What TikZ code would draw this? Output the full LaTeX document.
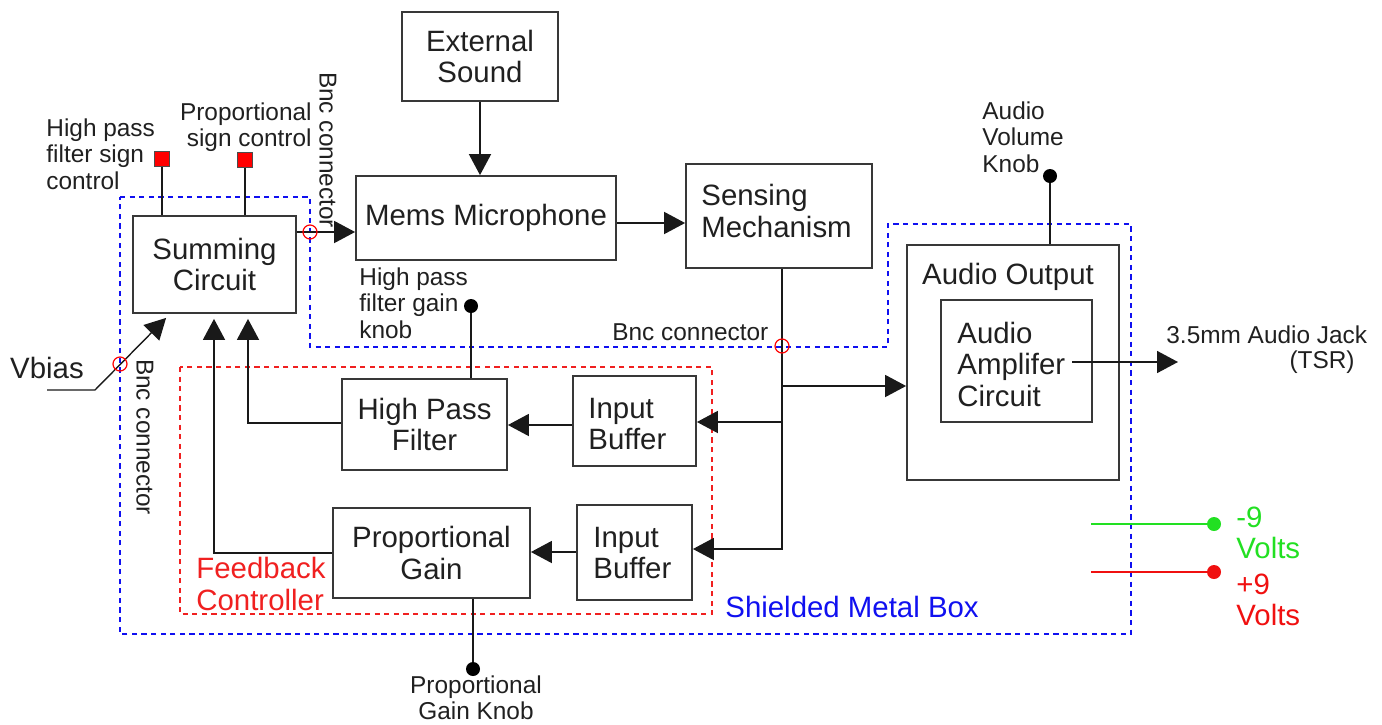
\documentclass[tikz,border=0pt]{standalone}
\usepackage{fontspec}
\setmainfont{Liberation Sans}
\usetikzlibrary{arrows.meta,fit,calc}
\definecolor{boxc}{HTML}{383838}
\definecolor{txt}{HTML}{202020}
\definecolor{bluedash}{HTML}{1010F0}
\definecolor{reddash}{HTML}{F02020}
\definecolor{vgreen}{HTML}{22E022}
\definecolor{vred}{HTML}{F01010}
\begin{document}
\begin{tikzpicture}[x=0.5pt,y=-0.5pt,
  every node/.style={text=txt},
  box/.style={draw=boxc,line width=0.9pt,inner sep=0pt},
  big/.style={font=\fontsize{14.7}{15.75}\selectfont,inner sep=0pt},
  small/.style={font=\fontsize{12.2}{13.25}\selectfont,inner sep=0pt},
  wire/.style={draw=black!90,line width=0.85pt},
  arr/.style={wire,-{Triangle[length=10.5pt,width=11pt]}},
  knob/.style={circle,fill=black,inner sep=0pt,minimum size=7pt},
  sq/.style={rectangle,fill=red,draw=black!70,line width=0.4pt,inner sep=0pt,minimum size=7.5pt},
  bnc/.style={circle,draw=red,line width=0.6pt,inner sep=0pt,minimum size=7pt},
  shield/.style={draw=bluedash,line width=1.1pt,dash pattern=on 2.6pt off 2.2pt},
  fbbox/.style={draw=reddash,line width=1.1pt,dash pattern=on 2.6pt off 2.2pt}]
\useasboundingbox (0,0) rectangle (1382,724);

% dashed enclosures
\draw[shield] (120,197) -- (310,197) -- (310,347) -- (888,347) -- (888,224) -- (1131,224) -- (1131,634) -- (120,634) -- cycle;
\draw[fbbox] (180,367) rectangle (712,614);

% blocks
\node[box,fit={(402,12)(558,101)}] (ext) {};
\node[big,align=center] (extT) at (ext.center) {External\\Sound};
\node[box,fit={(356,176)(616,260)}] (mems) {};
\node[big] (memsT) at (mems.center) {Mems Microphone};
\node[box,fit={(686,164)(872,268)}] (sens) {};
\node[big,align=left,anchor=west] (sensT) at (701,211) {Sensing\\Mechanism};
\node[box,fit={(133,216)(296,313)}] (sum) {};
\node[big,align=center] (sumT) at (sum.center) {Summing\\Circuit};
\node[box,fit={(342,379)(507,470)}] (hpf) {};
\node[big,align=center] (hpfT) at (hpf.center) {High Pass\\Filter};
\node[box,fit={(573,376)(696,466)}] (ib1) {};
\node[big,align=left,anchor=west] (ib1T) at (588,424) {Input\\Buffer};
\node[box,fit={(577,505)(692,600)}] (ib2) {};
\node[big,align=left,anchor=west] (ib2T) at (593,553) {Input\\Buffer};
\node[box,fit={(333,508)(530,598)}] (pg) {};
\node[big,align=center] (pgT) at (pg.center) {Proportional\\Gain};
\node[box,fit={(907,245)(1119,480)}] (aout) {};
\node[big] (aoutT) at (1008,277) {Audio Output};
\node[box,fit={(941,300)(1092,422)}] (amp) {};
\node[big,align=left,anchor=west] (ampT) at (957,364) {Audio\\Amplifer\\Circuit};

% controls
\node[sq] (hsq) at (162,159) {};
\node[sq] (psq) at (245,160) {};
\node[knob] (hpk) at (471,306) {};
\node[knob] (avk) at (1050,176) {};
\node[knob] (pgk) at (473,669) {};

% labels
\node[small,align=left,anchor=west] (lhs) at (46,154) {High pass\\filter sign\\control};
\node[small,align=right,anchor=east] (lps) at (312,127) {Proportional\\sign control};
\node[small,rotate=-90] (lbnc1) at (328,150) {Bnc connector};
\node[small,rotate=-90] (lbnc3) at (145,437) {Bnc connector};
\node[small,anchor=west] (lbnc2) at (612,332) {Bnc connector};
\node[small,align=left,anchor=west] (lhk) at (359,303) {High pass\\filter gain\\knob};
\node[small,align=left,anchor=west] (lavk) at (982,137) {Audio\\Volume\\Knob};
\node[small,align=center] (lpgk) at (476,698) {Proportional\\Gain Knob};
\node[small,anchor=west] (ljack) at (1166,335) {3.5mm Audio Jack};
\node[small,anchor=east] (ltsr) at (1355,362) {(TSR)};
\node[big] (vbias) at (47,368) {Vbias};
\node[big,align=left,anchor=west,text=reddash] (lfb) at (196,584) {Feedback\\Controller};
\node[big,anchor=west,text=bluedash] (lsmb) at (725,607) {Shielded Metal Box};
\node[big,align=left,anchor=west,text=vgreen] (lm9) at (1236,533) {-9\\Volts};
\node[big,align=left,anchor=west,text=vred] (lp9) at (1236,600) {+9\\Volts};

% helper coordinates
\coordinate (ysm) at (0,232);
\coordinate (yms) at (0,223);
\coordinate (jA) at (782,386);
\coordinate (jB) at (782,422);
\coordinate (jC) at (782,549);
\coordinate (yib1) at (0,425);
\coordinate (yib2) at (0,552);
\coordinate (fh) at (248,423);
\coordinate (fp) at (214,553);
\coordinate (vbS) at (47,390);
\coordinate (vbK) at (95,390);
\coordinate (ao) at (1072,362);
\coordinate (jack) at (1178,362);
\coordinate (gS) at (1091,524);
\coordinate (rS) at (1091,572);
\node[circle,fill=vgreen,inner sep=0pt,minimum size=7pt] (gdot) at (1214,524) {};
\node[circle,fill=vred,inner sep=0pt,minimum size=7pt] (rdot) at (1214,572) {};

% connectors
\draw[arr] (ext.south) -- (ext.south |- mems.north);
\draw[arr] (sum.east |- ysm) -- (mems.west |- ysm);
\draw[arr] (mems.east |- yms) -- (sens.west |- yms);
\draw[arr] (sens.south -| jA) |- (ib2.east |- jC);
\draw[arr] (jB) -- (ib1.east |- jB);
\draw[arr] (jA) -- (aout.west |- jA);
\draw[arr] (ib1.west |- yib1) -- (hpf.east |- yib1);
\draw[arr] (ib2.west |- yib2) -- (pg.east |- yib2);
\draw[arr,shorten >=2.5pt] (hpf.west |- fh) -| (fh |- sum.south);
\draw[arr,shorten >=2.5pt] (pg.west |- fp) -| (fp |- sum.south);
\draw[arr,line width=0.7pt] (vbS) -- (vbK) -- ($(sum.south west)+(34,4)$);
\draw[wire] (hsq) -- (hsq |- sum.north);
\draw[wire] (psq) -- (psq |- sum.north);
\draw[wire] (hpk) -- (hpk |- hpf.north);
\draw[wire] (avk) -- (avk |- aout.north);
\draw[wire] (pgk) -- (pgk |- pg.south);
\draw[arr] (ao) -- (jack);
\draw[draw=vgreen,line width=0.9pt] (gS) -- (gdot);
\draw[draw=vred,line width=0.6pt] (rS) -- (rdot);

% bnc connectors
\node[bnc] (bc1) at (310,232) {};
\node[bnc] (bc2) at (782,346) {};
\node[bnc] (bc3) at (120,364) {};
\end{tikzpicture}
\end{document}
